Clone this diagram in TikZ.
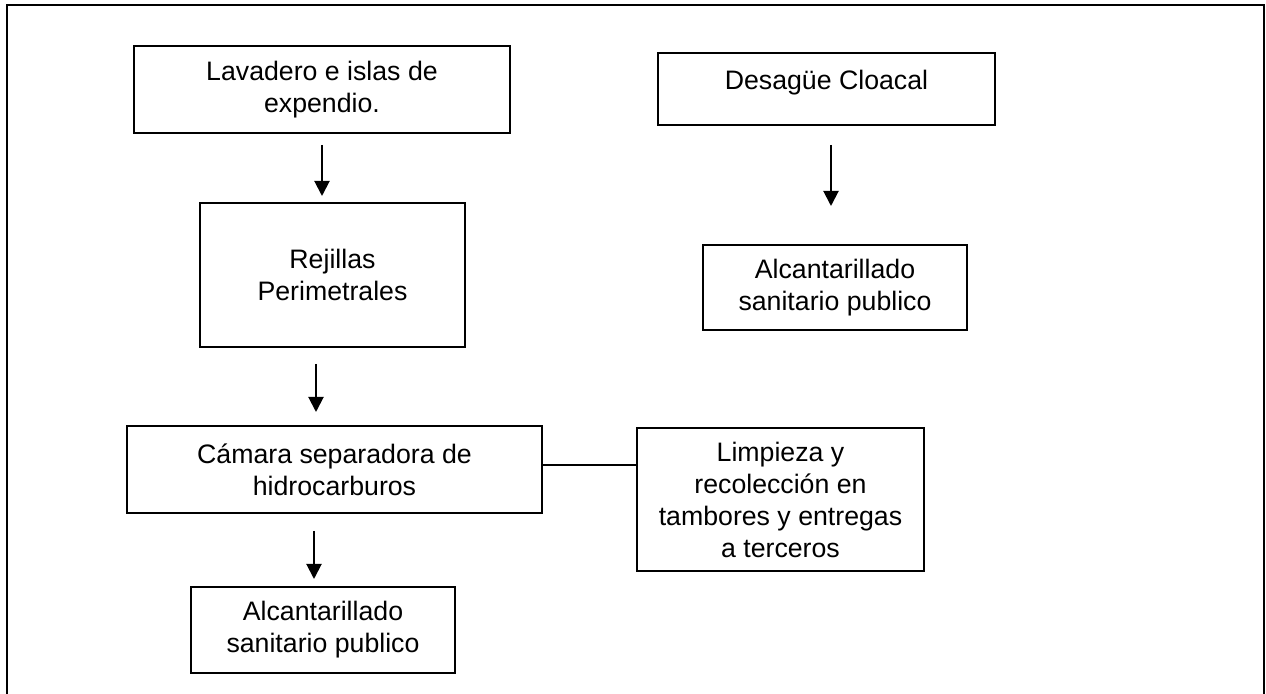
\documentclass[tikz,border=0pt]{standalone}
\usepackage{fontspec}
\setmainfont{Liberation Sans}
\usetikzlibrary{arrows.meta}
\tikzset{
  box/.style={draw=black, line width=1pt, inner sep=0pt, align=center,
    font=\fontsize{13.35pt}{16pt}\selectfont},
  txt/.style={inner sep=0pt, align=center, font=\fontsize{13.35pt}{16pt}\selectfont},
  arr/.style={line width=1pt, -{Triangle[width=7.5pt,length=7.5pt]}},
  link/.style={line width=1pt}
}
\begin{document}
\begin{tikzpicture}[x=0.5pt,y=-0.5pt]
\useasboundingbox (0,0) rectangle (1266,694);
\draw[line width=1.2pt] (7,694) -- (7,5) -- (1264,5) -- (1264,694);

\node[box, minimum width=188pt, minimum height=43.5pt] (lav) at (322,89.5) {Lavadero e islas de\\expendio.};
\node[box, minimum width=132.5pt, minimum height=72pt] (rej) at (332.5,275) {Rejillas\\Perimetrales};
\node[box, minimum width=207.5pt, minimum height=43.5pt] (cam) at (334.5,469.5) {Cámara separadora de\\hidrocarburos};
\node[box, minimum width=143.5pt, minimum height=71.5pt] (lim) at (780.5,499.5) {Limpieza y\\recolección en\\tambores y entregas\\a terceros};
\node[box, minimum width=132pt, minimum height=43pt] (alc1) at (323,630) {Alcantarillado\\sanitario publico};
\node[box, minimum width=168.5pt, minimum height=36pt] (des) at (826.5,89) {};
\node[txt] (destxt) at (826.5,83) {Desagüe Cloacal};
\node[box, minimum width=132pt, minimum height=42.5pt] (alc2) at (835,287.5) {Alcantarillado\\sanitario publico};

\draw[arr] ([yshift=-5.5pt]lav.south) -- ([yshift=3pt]lav.south |- rej.north);
\draw[arr] ([xshift=-8.25pt,yshift=-8pt]rej.south) -- ([xshift=-9.25pt,yshift=6.5pt]cam.north);
\draw[arr] ([xshift=-10.25pt,yshift=-8.5pt]cam.south) -- ([xshift=-4.5pt,yshift=3.5pt]alc1.north);
\draw[arr] ([xshift=2.25pt,yshift=-9.5pt]des.south) -- ([xshift=-2pt,yshift=19pt]alc2.north);
\draw[link] ([yshift=2.25pt]cam.east) -- ([yshift=2.25pt]cam.east -| lim.west);
\end{tikzpicture}
\end{document}
